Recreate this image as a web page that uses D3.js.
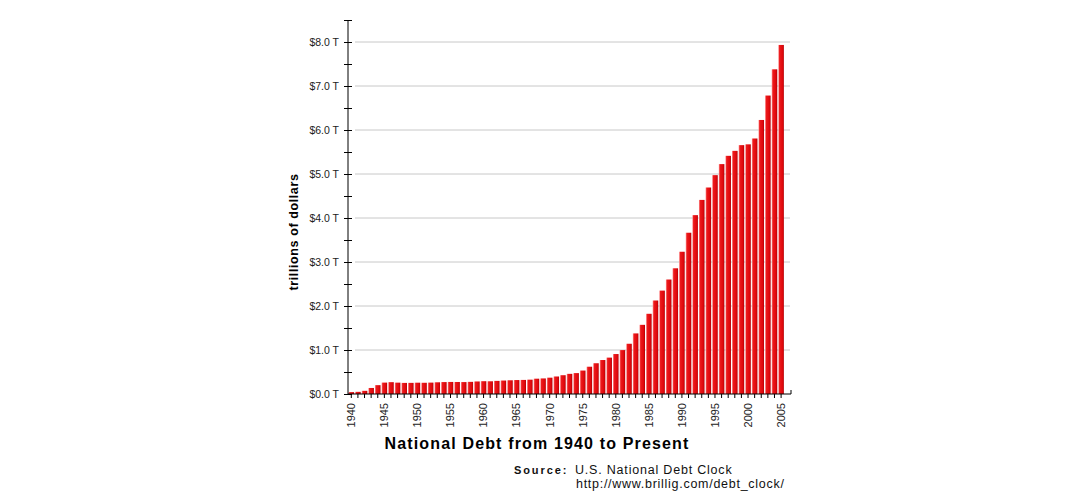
<!DOCTYPE html>
<html>
<head>
<meta charset="utf-8">
<script src="https://cdn.jsdelivr.net/npm/d3@7"></script>
<style>
  body { margin: 0; background: #fff; }
  svg { display: block; }
</style>
</head>
<body>
<div id="chart"></div>
<script>
// national debt, trillions of dollars, one bar per year
const years = d3.range(1940, 2006)
const debt = [
  0.043, 0.049, 0.072, 0.137, 0.201, 0.259, 0.269, 0.258, 0.252, 0.253,
  0.257, 0.255, 0.259, 0.266, 0.271, 0.274, 0.273, 0.271, 0.276, 0.285,
  0.291, 0.289, 0.298, 0.306, 0.312, 0.317, 0.320, 0.326, 0.348, 0.354,
  0.371, 0.398, 0.427, 0.458, 0.475, 0.533, 0.620, 0.699, 0.772, 0.827,
  0.908, 0.998, 1.142, 1.377, 1.572, 1.823, 2.125, 2.350, 2.602, 2.857,
  3.233, 3.665, 4.065, 4.411, 4.693, 4.974, 5.225, 5.413, 5.526, 5.656,
  5.674, 5.807, 6.228, 6.783, 7.379, 7.933
]
const yTicks = d3.range(0, 8.51, 0.5)
const yearLabels = d3.range(1940, 2006, 5)

const width = 1080, height = 499
const margin = {top: 20, right: 296, bottom: 105, left: 348}
const plotW = 784.4 - margin.left
const plotH = height - margin.top - margin.bottom

const svg = d3.select('#chart').append('svg')
  .attr('width', width)
  .attr('height', height)
  .style('font-family', 'Arial, "Liberation Sans", sans-serif')

const grad = svg.append('defs').append('linearGradient')
  .attr('id', 'bar').attr('x1', 0).attr('x2', 1).attr('y1', 0).attr('y2', 0)
grad.append('stop').attr('offset', '0%').attr('stop-color', '#ff9a9a')
grad.append('stop').attr('offset', '22%').attr('stop-color', '#ec1a1c')
grad.append('stop').attr('offset', '75%').attr('stop-color', '#e0080c')
grad.append('stop').attr('offset', '100%').attr('stop-color', '#b00006')

const area = svg.append('g').attr('transform', `translate(${margin.left},${margin.top})`)

const x = d3.scaleBand().domain(years).range([0, plotW]).paddingInner(0.16).paddingOuter(0.08)
const y = d3.scaleLinear().domain([0, 8.5]).range([plotH, 0])

// gridlines on whole trillions
area.append('g').selectAll('line')
  .data(yTicks.filter(d => d > 0 && d % 1 === 0))
  .enter().append('line')
  .attr('x1', 7).attr('x2', 442)
  .attr('y1', d => y(d)).attr('y2', d => y(d))
  .attr('stroke', '#c8c8c8').attr('stroke-width', 1)

area.append('g').selectAll('rect')
  .data(debt)
  .enter().append('rect')
  .attr('x', (d, i) => x(years[i]))
  .attr('width', x.bandwidth())
  .attr('y', d => y(d))
  .attr('height', d => y(0) - y(d))
  .attr('fill', 'url(#bar)')

// y axis
const yAxis = area.append('g')
  .call(d3.axisLeft(y).tickValues(yTicks).tickSize(4)
    .tickFormat(d => d % 1 === 0 ? '$' + d.toFixed(1) + ' T' : ''))
yAxis.select('.domain').attr('stroke', '#000').attr('d', `M0,0V${plotH}`)
yAxis.selectAll('.tick line').attr('x1', -4).attr('x2', 4).attr('stroke', '#000')
yAxis.selectAll('.tick text')
  .attr('x', -9).attr('font-size', 10.5).attr('fill', '#222')
  .style('font-family', 'Arial, "Liberation Sans", sans-serif')

// x axis
const xAxis = area.append('g').attr('transform', `translate(0,${plotH})`)
  .call(d3.axisBottom(x).tickSize(4)
    .tickFormat(d => yearLabels.includes(d) ? d : ''))
xAxis.select('.domain').attr('stroke', '#000').attr('d', `M0,0H${plotW + 6.6}V-4`)
xAxis.selectAll('.tick line').attr('stroke', '#000')
xAxis.selectAll('.tick text')
  .attr('transform', 'rotate(-90)')
  .attr('text-anchor', 'end')
  .attr('x', -9).attr('y', 0).attr('dy', '0.35em')
  .attr('font-size', 11).attr('fill', '#222')
  .style('font-family', 'Arial, "Liberation Sans", sans-serif')

svg.append('text')
  .attr('transform', 'translate(298,232) rotate(-90)')
  .attr('text-anchor', 'middle')
  .attr('font-size', 12.5).attr('font-weight', 'bold')
  .attr('letter-spacing', 0.6)
  .text('trillions of dollars')

svg.append('text')
  .attr('x', 537).attr('y', 449)
  .attr('text-anchor', 'middle')
  .attr('font-size', 16).attr('font-weight', 'bold')
  .attr('letter-spacing', 1.15)
  .text('National Debt from 1940 to Present')

const src = svg.append('g').attr('font-size', 12.5).attr('fill', '#111')
src.append('text').attr('x', 514).attr('y', 474)
  .attr('font-weight', 'bold').attr('letter-spacing', 1.9).attr('font-size', 11)
  .text('Source:')
src.append('text').attr('x', 575).attr('y', 474).attr('letter-spacing', 0.8)
  .text('U.S. National Debt Clock')
src.append('text').attr('x', 576).attr('y', 488).attr('letter-spacing', 0.72)
  .text('http://www.brillig.com/debt_clock/')
</script>
</body>
</html>
